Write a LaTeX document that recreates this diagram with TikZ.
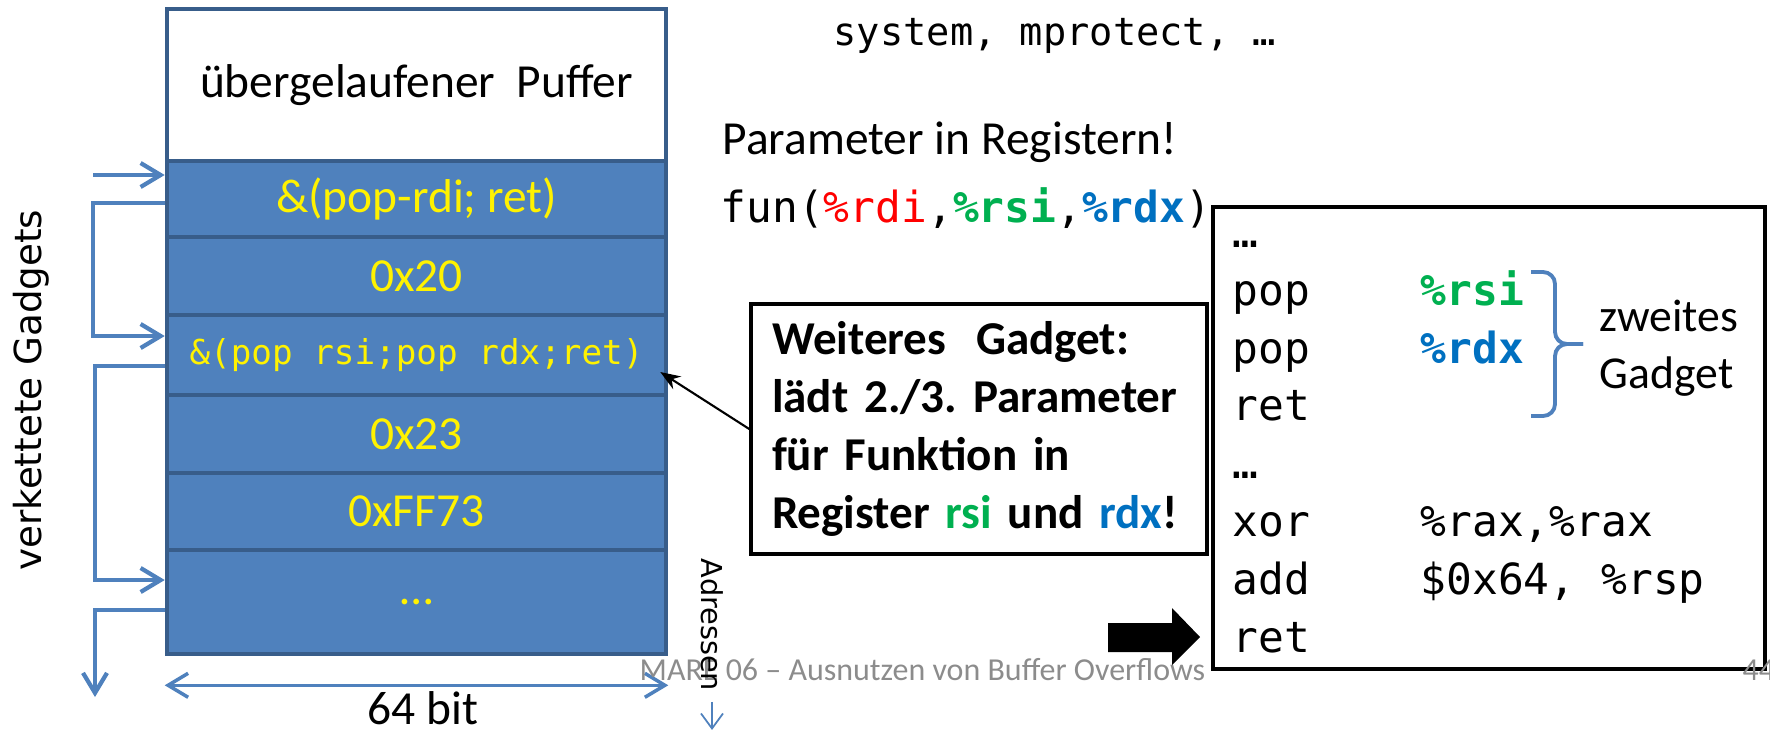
\documentclass[tikz,border=0pt]{standalone}
\usepackage{fontspec}
\setmainfont{Carlito}
\newfontfamily\codefont{DejaVu Sans Mono}
\newfontfamily\sidefont{DejaVu Sans}
\usetikzlibrary{calc,arrows.meta}
\definecolor{stackblue}{HTML}{4F81BD}
\definecolor{stackline}{HTML}{385D8A}
\definecolor{regred}{HTML}{FF0000}
\definecolor{reggreen}{HTML}{00B050}
\definecolor{regblue}{HTML}{0070C0}
\definecolor{footgray}{HTML}{8C8C8C}

\begin{document}
\begin{tikzpicture}[>=Stealth,
  cell/.style={draw=stackline,line width=1.3pt,fill=stackblue,minimum width=4.99cm,inner sep=0pt,text=yellow,font=\fontsize{13.5}{16}\selectfont},
  chain/.style={draw=stackblue,line width=1.2pt,-{Straight Barb[length=2mm,width=2.4mm]}},
  txt/.style={inner sep=0pt,font=\fontsize{13.5}{16}\selectfont},
  foot/.style={anchor=base west,inner sep=0pt,text=footgray,font=\fontsize{9.1}{11}\selectfont}]
  \useasboundingbox (0,0) rectangle (17.70,-7.32);

  % stack
  \node[cell,fill=white,text=black,minimum height=1.52cm] (puffer) at (4.165,-0.85) {übergelaufener\ \ Puffer};
  \node[cell,minimum height=0.76cm] (gadgetA) at (4.165,-1.99) {\&(pop-rdi; ret)};
  \node[cell,minimum height=0.78cm] (argA) at (4.165,-2.76) {0x20};
  \node[cell,minimum height=0.80cm,font=\codefont\fontsize{9.75}{12}\selectfont] (gadgetB) at (4.165,-3.55) {\&(pop rsi;pop rdx;ret)};
  \node[cell,minimum height=0.78cm] (argB) at (4.165,-4.34) {0x23};
  \node[cell,minimum height=0.77cm] (argC) at (4.165,-5.115) {0xFF73};
  \node[cell,minimum height=1.04cm] (rest) at (4.165,-6.02) {…};

  % chained gadgets
  \coordinate (chainin) at (0.93,-1.75);
  \coordinate (chainout) at (0.95,-6.97);
  \draw[chain] (chainin) -- (chainin -| gadgetA.west);
  \draw[chain] ([yshift=-0.04cm]gadgetA.west) -- ++(-0.72,0) |- ([yshift=0.19cm]gadgetB.west);
  \draw[chain] ([yshift=-0.11cm]gadgetB.west) -- ++(-0.70,0) |- ([yshift=0.22cm]rest.west);
  \draw[chain] ([yshift=-0.08cm]rest.west) -| (chainout);
  \node[rotate=90,inner sep=0pt,font=\sidefont\fontsize{10.6}{12}\selectfont] (chainlbl) at (0.31,-3.90) {verkettete Gadgets};

  % width
  \draw[chain,line width=1pt,{Straight Barb[length=2mm,width=2.4mm]}-{Straight Barb[length=2mm,width=2.4mm]}] ([yshift=-0.29cm]rest.south west) -- ([yshift=-0.29cm]rest.south east);
  \node[txt] (bits) at (4.23,-7.08) {64 bit};

  % footer
  \node[foot] (footer) at (6.39,-6.80) {MARE 06 – Ausnutzen von Buffer Overflows};

  % text on the right
  \node[anchor=base west,inner sep=0pt,font=\codefont\fontsize{11}{13}\selectfont] (funclist) at (8.33,-0.45) {system, mprotect, …};
  \node[txt,anchor=base west] (param) at (7.22,-1.54) {Parameter in Registern!};
  \node[anchor=base west,inner sep=0pt,font=\codefont\fontsize{12.2}{15}\selectfont] (funcall) at (7.20,-2.22)
    {fun(\textcolor{regred}{\%rdi},\textcolor{reggreen}{\textbf{\%rsi}},\textcolor{regblue}{\textbf{\%rdx}})};

  % code
  \node[draw,line width=1.4pt,minimum width=5.52cm,minimum height=4.62cm] (codebox) at (14.89,-4.38) {};
  \node[anchor=base west,inner sep=0pt,font=\codefont\fontsize{12.2}{16.5}\selectfont] (code) at (12.32,-2.47)
    {\begin{tabular}[t]{@{}p{1.88cm}@{}l@{}}
      … & \\
      pop & \textcolor{reggreen}{\textbf{\%rsi}} \\
      pop & \textcolor{regblue}{\textbf{\%rdx}} \\
      ret & \\
      … & \\
      xor & \%rax,\%rax \\
      add & \$0x64, \%rsp \\
      ret &
    \end{tabular}};
  % brace round the second gadget
  \draw[draw=stackblue,line width=1.1pt,rounded corners=0.12cm] (15.31,-2.72) -- (15.55,-2.72) -- (15.55,-3.44) -- (15.83,-3.44);
  \draw[draw=stackblue,line width=1.1pt,rounded corners=0.12cm] (15.31,-4.16) -- (15.55,-4.16) -- (15.55,-3.44) -- (15.83,-3.44);
  \node[txt,anchor=west,align=left,font=\fontsize{13}{16.2}\selectfont] (second) at (15.99,-3.48) {zweites\\Gadget};
  \node[foot] (pageno) at (17.42,-6.80) {44};

  % callout
  \node[draw,line width=1pt,minimum width=4.56cm,minimum height=2.50cm,text width=4.14cm,align=left,
    inner xsep=0.21cm,inner ysep=0pt,font=\bfseries\fontsize{13.4}{16.5}\selectfont\frenchspacing] (callout) at (9.79,-4.29)
    {\mbox{Weiteres\hspace{0.3em} Gadget:}\\ \mbox{lädt 2./3. Parameter}\\ \mbox{für Funktion in}\\
     \mbox{Register \textcolor{reggreen}{rsi} und \textcolor{regblue}{rdx}!}};
  \draw[->,line width=0.6pt] (callout.west) -- ([xshift=-0.08cm,yshift=-0.17cm]gadgetB.east);
  \fill (11.08,-6.23) -- (11.72,-6.23) -- (11.72,-6.08) -- (12.00,-6.37) -- (11.72,-6.65) -- (11.72,-6.52) -- (11.08,-6.52) -- cycle;

  % addresses
  \node[rotate=-90,inner sep=0pt,font=\sidefont\fontsize{8.2}{10}\selectfont] (adr) at (7.12,-6.25) {Adressen};
  \draw[draw=stackblue,line width=0.5pt,-{Straight Barb[length=1.5mm,width=2.2mm]}] ([yshift=-0.1cm]adr.east) -- ++(0,-0.28);
\end{tikzpicture}
\end{document}
